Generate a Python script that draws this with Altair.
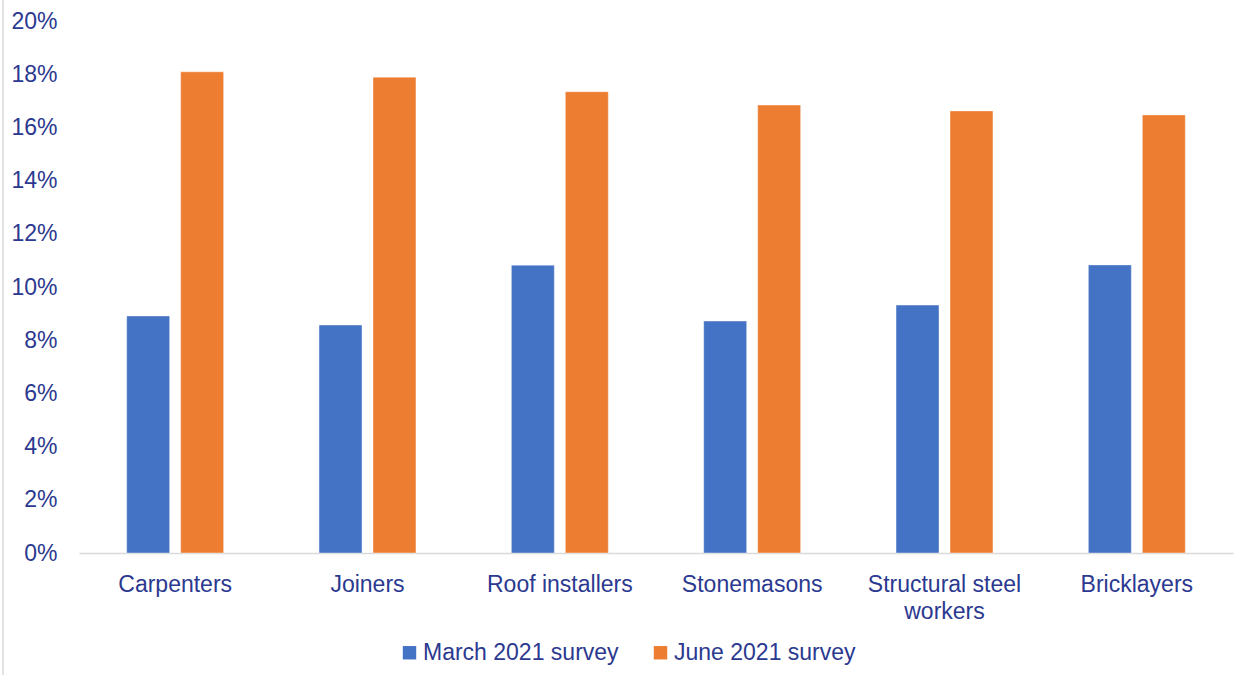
import altair as alt
import pandas as pd

occupations = ["Carpenters", "Joiners", "Roof installers", "Stonemasons",
               "Structural steel workers", "Bricklayers"]
series_names = ["March 2021 survey", "June 2021 survey"]
march_values = [0.0891, 0.0857, 0.1082, 0.0872, 0.0932, 0.1083]
june_values = [0.1809, 0.1789, 0.1734, 0.1684, 0.1662, 0.1647]
y_ticks = [0, 0.02, 0.04, 0.06, 0.08, 0.10, 0.12, 0.14, 0.16, 0.18, 0.20]
colors = ["#4472C4", "#ED7D31"]

rows = []
for i, occ in enumerate(occupations):
    rows.append({"occupation": occ, "survey": series_names[0], "value": march_values[i]})
    rows.append({"occupation": occ, "survey": series_names[1], "value": june_values[i]})
df = pd.DataFrame(rows)

TEXT = "#2B3990"
FONT = "Liberation Sans"
FS = 23

bars = alt.Chart(df).mark_bar(stroke="white", strokeOpacity=0.5, strokeWidth=0.8).encode(
    x=alt.X("occupation:N", sort=occupations, title=None,
            scale=alt.Scale(paddingInner=0.496, paddingOuter=0.248),
            axis=alt.Axis(labelAngle=0, labelFontSize=FS, labelColor=TEXT, labelFont=FONT,
                          labelPadding=20, ticks=False, domainColor="#D9D9D9", domainWidth=1.3,
                          labelLineHeight=27, labelLimit=300,
                          labelExpr="datum.label == 'Structural steel workers' ? ['Structural steel', 'workers'] : datum.label")),
    xOffset=alt.XOffset("survey:N", sort=series_names,
                        scale=alt.Scale(paddingInner=0.204, paddingOuter=0)),
    y=alt.Y("value:Q", title=None,
            scale=alt.Scale(domain=[0, 0.2], nice=False),
            axis=alt.Axis(values=y_ticks, format=".0%", labelFontSize=FS, labelColor=TEXT,
                          labelFont=FONT, labelPadding=22, ticks=False, domain=False, grid=False)),
    color=alt.Color("survey:N", sort=series_names,
                    scale=alt.Scale(domain=series_names, range=colors),
                    legend=alt.Legend(title=None, orient="none", direction="horizontal",
                                      legendX=319, legendY=620, symbolType="square",
                                      symbolSize=180, symbolStrokeWidth=0, labelFontSize=FS,
                                      labelColor=TEXT, labelFont=FONT, labelOffset=2,
                                      labelLimit=400, columnPadding=30)),
)

border = alt.Chart(pd.DataFrame({"v": [0]})).mark_rule(color="#D9D9D9", strokeWidth=1.5).encode(
    x=alt.value(-76), y=alt.value(-21), y2=alt.value(654)
)

chart = alt.layer(bars, border).properties(
    width=1154, height=532,
    background="white",
    autosize=alt.AutoSizeParams(type="none"),
    padding={"left": 79, "top": 21, "right": 3, "bottom": 122},
).configure_view(strokeWidth=0, stroke=None)

chart.save("out.html", embed_options={"renderer": "svg", "actions": False})
